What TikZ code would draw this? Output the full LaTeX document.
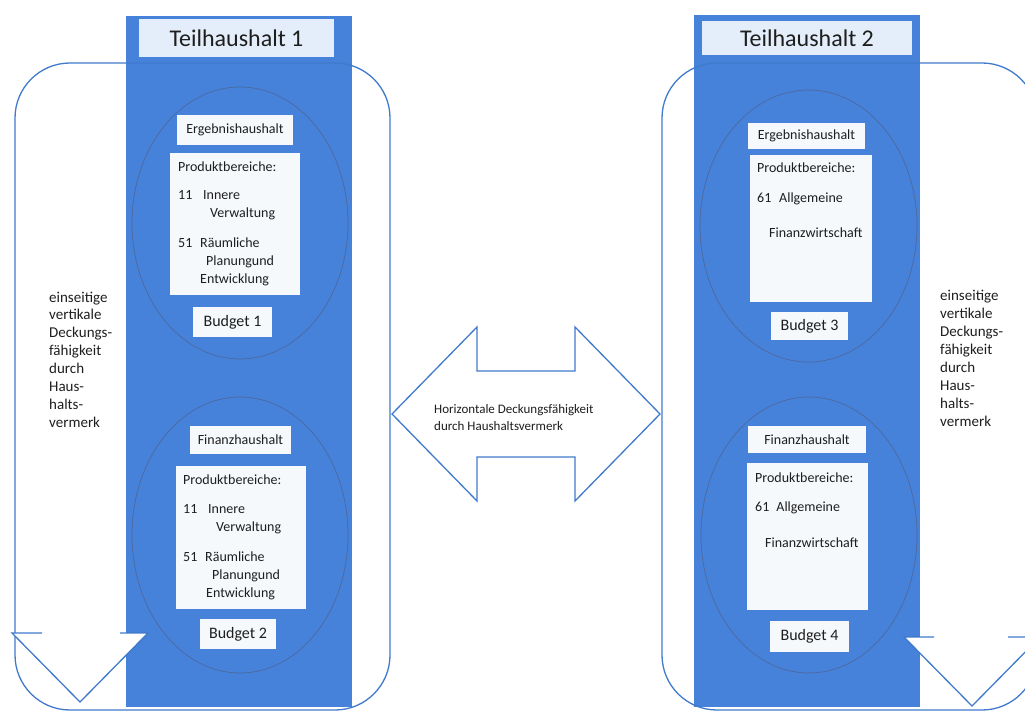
\documentclass[tikz,border=0pt]{standalone}
\usepackage{fontspec}
\setmainfont{Carlito}
\definecolor{bfill}{RGB}{70,130,218}
\definecolor{linec}{RGB}{64,122,204}
\definecolor{ellc}{RGB}{78,104,158}
\definecolor{boxc}{RGB}{246,249,252}
\definecolor{titc}{RGB}{228,238,250}
\definecolor{txt}{RGB}{30,30,30}
\begin{document}
\begin{tikzpicture}[x=1pt,y=-1pt,
  colbox/.style={fill=bfill,draw=none},
  ell/.style={draw=ellc,line width=0.7pt},
  wbox/.style={fill=boxc,inner sep=0pt,text=txt,font=\fontsize{14pt}{17pt}\selectfont},
  tbox/.style={fill=titc,inner sep=0pt,text=txt,font=\fontsize{24pt}{28pt}\selectfont},
  budbox/.style={fill=boxc,inner sep=0pt,text=txt,font=\fontsize{16pt}{19pt}\selectfont},
  plain/.style={inner sep=0pt,text=txt,anchor=base west},
  rr/.style={draw=linec,line width=1.3pt,rounded corners=55pt},
  arr/.style={draw=linec,line width=1.3pt,line join=miter},
]
\useasboundingbox (0,0) rectangle (1025,711);
% columns
\fill[colbox] (126,16) rectangle (352,707);
\fill[colbox] (694,15) rectangle (920,707);
% ellipses
\draw[ell] (240,223) ellipse [x radius=108pt, y radius=136pt];
\draw[ell] (240,535) ellipse [x radius=108pt, y radius=138pt];
\draw[ell] (808.5,226) ellipse [x radius=108.5pt, y radius=136pt];
\draw[ell] (809,535) ellipse [x radius=108pt, y radius=138pt];
% titles
\node[tbox,minimum width=195pt,minimum height=38pt] (t1) at (236.5,38) {Teilhaushalt 1};
\node[tbox,minimum width=210pt,minimum height=34pt] (t2) at (807,38) {Teilhaushalt 2};
% header boxes
\node[wbox,minimum width=116pt,minimum height=30pt] (erg1) at (235,130) {Ergebnishaushalt};
\node[wbox,minimum width=117pt,minimum height=26pt] (erg3) at (806.5,136) {Ergebnishaushalt};
\node[wbox,minimum width=101pt,minimum height=28pt] (fin2) at (240.5,440) {Finanzhaushalt};
\node[wbox,minimum width=118pt,minimum height=27pt] (fin4) at (807,439.5) {Finanzhaushalt};
% product boxes
\node[wbox,minimum width=130pt,minimum height=142pt] (p1) at (235,224) {};
\node[wbox,minimum width=130pt,minimum height=143pt] (p2) at (241,537.5) {};
\node[wbox,minimum width=122pt,minimum height=147pt] (p3) at (811,228.5) {};
\node[wbox,minimum width=121pt,minimum height=147pt] (p4) at (807.5,536.5) {};
\node[plain,font=\fontsize{14pt}{18pt}\selectfont] (p1t) at (178,172) {\vtop{\baselineskip=18pt
  \hbox{Produktbereiche:}\vskip10pt
  \hbox{11\hspace{10.8pt}Innere}
  \hbox{\hspace{32pt}Verwaltung}\vskip12pt
  \hbox{51\hspace{7.8pt}Räumliche}
  \hbox{\hspace{28pt}Planungund}
  \hbox{\hspace{22pt}Entwicklung}}};
\node[plain,font=\fontsize{14pt}{18pt}\selectfont] (p2t) at (183,484) {\vtop{\baselineskip=18pt
  \hbox{Produktbereiche:}\vskip11pt
  \hbox{11\hspace{10.8pt}Innere}
  \hbox{\hspace{33pt}Verwaltung}\vskip12pt
  \hbox{51\hspace{7.8pt}Räumliche}
  \hbox{\hspace{29pt}Planungund}
  \hbox{\hspace{23pt}Entwicklung}}};
\node[plain,font=\fontsize{14pt}{18pt}\selectfont] (p3t) at (757,173) {\vtop{\baselineskip=18pt
  \hbox{Produktbereiche:}\vskip12pt
  \hbox{61\hspace{7.8pt}Allgemeine}\vskip17pt
  \hbox{\hspace{12pt}Finanzwirtschaft}}};
\node[plain,font=\fontsize{14pt}{18pt}\selectfont] (p4t) at (755,482) {\vtop{\baselineskip=18pt
  \hbox{Produktbereiche:}\vskip11pt
  \hbox{61\hspace{7pt}Allgemeine}\vskip18pt
  \hbox{\hspace{10pt}Finanzwirtschaft}}};
% budget boxes
\node[budbox,minimum width=79pt,minimum height=30pt] (b1) at (232.5,322) {Budget 1};
\node[budbox,minimum width=76pt,minimum height=30pt] (b2) at (238,634) {Budget 2};
\node[budbox,minimum width=77pt,minimum height=28pt] (b3) at (809.5,326) {Budget 3};
\node[budbox,minimum width=79pt,minimum height=31pt] (b4) at (809.5,636.5) {Budget 4};
% rounded frames
\draw[rr] (15,63) rectangle (390,710);
\draw[rr] (662,63) rectangle (1037,710);
% side arrows (heads)
\fill[white] (42,600) -- (42,633) -- (12,633) -- (80,702) -- (148,633) -- (120,633) -- (120,600) -- cycle;
\draw[arr] (42,633) -- (12,633) -- (80,702) -- (148,633) -- (120,633);
\fill[white] (934,600) -- (934,637) -- (904,637) -- (972,706) -- (1040,637) -- (1008,637) -- (1008,600) -- cycle;
\draw[arr] (934,637) -- (904,637) -- (972,706) -- (1040,637) -- (1008,637);
% side texts
\node[plain,font=\fontsize{15pt}{18pt}\selectfont] (lt) at (49,302) {\vtop{\baselineskip=17.9pt
  \hbox{einseitige}\hbox{vertikale}\hbox{Deckungs-}\hbox{fähigkeit}\hbox{durch}\hbox{Haus-}\hbox{halts-}\hbox{vermerk}}};
\node[plain,font=\fontsize{15pt}{18pt}\selectfont] (rt) at (940,301) {\vtop{\baselineskip=17.9pt
  \hbox{einseitige}\hbox{vertikale}\hbox{Deckungs-}\hbox{fähigkeit}\hbox{durch}\hbox{Haus-}\hbox{halts-}\hbox{vermerk}}};
% horizontal double arrow
\draw[arr,fill=white] (392,414) -- (477,327) -- (477,371) -- (575,371) -- (575,327) -- (660,414)
  -- (575,501) -- (575,457) -- (477,457) -- (477,501) -- cycle;
\node[plain,font=\fontsize{13pt}{17pt}\selectfont] (ht) at (434,413) {\vtop{\baselineskip=17pt
  \hbox{Horizontale Deckungsfähigkeit}\hbox{durch Haushaltsvermerk}}};
\end{tikzpicture}
\end{document}
